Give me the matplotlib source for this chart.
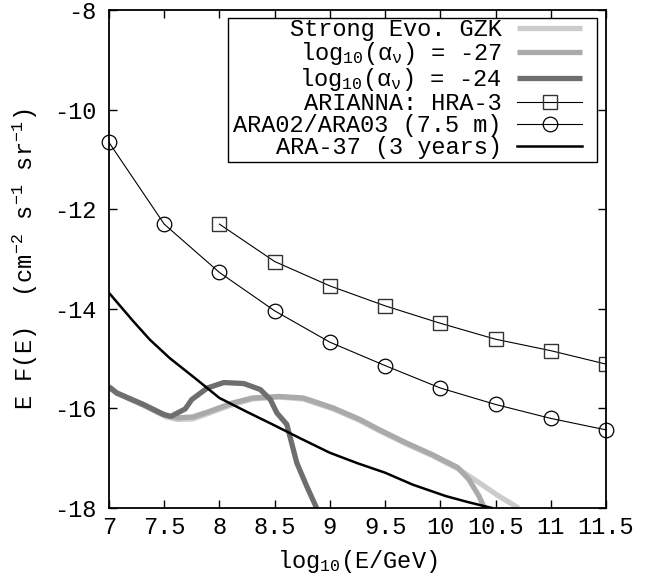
import matplotlib
matplotlib.use("Agg")
import matplotlib.pyplot as plt
from matplotlib.patches import Rectangle

plt.rcParams['font.family'] = ['Liberation Mono', 'DejaVu Sans']
plt.rcParams['font.size'] = 17
plt.rcParams['mathtext.default'] = 'regular'
plt.rcParams['axes.unicode_minus'] = False

# ARA02/ARA03 (7.5 m) sensitivity, circles
ara23_x = [7.0, 7.5, 8.0, 8.5, 9.0, 9.5, 10.0, 10.5, 11.0, 11.5]
ara23_y = [-10.66, -12.30, -13.27, -14.04, -14.67, -15.14, -15.59, -15.92, -16.20, -16.43]

# ARIANNA HRA-3, squares
hra3_x = [8.0, 8.5, 9.0, 9.5, 10.0, 10.5, 11.0, 11.5]
hra3_y = [-12.30, -13.05, -13.54, -13.94, -14.29, -14.61, -14.84, -15.11]

# ARA-37 (3 years)
ara37_x = [7.0, 7.22, 7.37, 7.55, 7.8, 8.0, 8.25, 8.48, 8.75, 9.0, 9.25, 9.5, 9.75, 10.05, 10.25, 10.47]
ara37_y = [-13.68, -14.25, -14.62, -14.99, -15.43, -15.79, -16.07, -16.32, -16.62, -16.89, -17.10, -17.29,
           -17.53, -17.76, -17.88, -18.0]

# Strong evolution GZK flux
gzk_x = [7.0, 7.07, 7.31, 7.52, 7.62, 7.76, 7.91, 8.12, 8.30, 8.54, 8.76, 9.03, 9.27, 9.45, 9.69, 9.93,
         10.16, 10.35, 10.53, 10.71]
gzk_y = [-15.55, -15.69, -15.94, -16.17, -16.22, -16.21, -16.09, -15.92, -15.81, -15.77, -15.81, -16.01,
         -16.24, -16.45, -16.71, -16.95, -17.21, -17.49, -17.76, -18.0]

# log10(alpha_nu) = -27
a27_x = [7.0, 7.07, 7.31, 7.52, 7.62, 7.76, 7.91, 8.12, 8.30, 8.54, 8.76, 9.03, 9.27, 9.45, 9.69, 9.93,
         10.16, 10.26, 10.35, 10.40]
a27_y = [-15.57, -15.69, -15.92, -16.14, -16.19, -16.17, -16.06, -15.89, -15.79, -15.76, -15.79, -15.99,
         -16.22, -16.43, -16.69, -16.93, -17.19, -17.43, -17.76, -18.0]

# log10(alpha_nu) = -24
a24_x = [7.0, 7.07, 7.31, 7.49, 7.56, 7.69, 7.75, 7.89, 8.04, 8.22, 8.37, 8.46, 8.52, 8.61, 8.70, 8.79, 8.88]
a24_y = [-15.57, -15.69, -15.92, -16.12, -16.16, -16.01, -15.82, -15.59, -15.48, -15.50, -15.62, -15.82,
         -16.09, -16.32, -17.09, -17.56, -18.0]

x_ticks = [7, 7.5, 8, 8.5, 9, 9.5, 10, 10.5, 11, 11.5]
x_tick_labels = ["7", "7.5", "8", "8.5", "9", "9.5", "10", "10.5", "11", "11.5"]
y_ticks = [-18, -16, -14, -12, -10, -8]
y_tick_labels = ["-18", "-16", "-14", "-12", "-10", "-8"]

fig = plt.figure(figsize=(6.45, 5.86), dpi=100)
ax = fig.add_axes([0.169, 0.133, 0.7705, 0.850])

ax.plot(gzk_x, gzk_y, color="#cccccc", lw=3.8, solid_capstyle="butt", label="Strong Evo. GZK")
ax.plot(a27_x, a27_y, color="#aaaaaa", lw=3.8, solid_capstyle="butt",
        label="log$_{10}$(α$_ν$) = -27")
ax.plot(a24_x, a24_y, color="#6e6e6e", lw=3.8, solid_capstyle="butt",
        label="log$_{10}$(α$_ν$) = -24")
ax.plot(hra3_x, hra3_y, color="black", lw=0.8, marker="s", ms=10.5, mfc="none", mec="#333333",
        mew=1.0, label="ARIANNA: HRA-3")
ax.plot(ara23_x, ara23_y, color="black", lw=0.8, marker="o", ms=10.5, mfc="none", mec="black",
        mew=0.9, clip_on=False, label="ARA02/ARA03 (7.5 m)")
ax.plot(ara37_x, ara37_y, color="black", lw=1.8, label="ARA-37 (3 years)")

ax.set_xlim(7, 11.5)
ax.set_ylim(-18, -8)
ax.set_xticks(x_ticks)
ax.set_xticklabels(x_tick_labels)
ax.set_yticks(y_ticks)
ax.set_yticklabels(y_tick_labels)
ax.tick_params(direction="in", length=6, width=1.0, top=True, right=True)
ax.tick_params(axis="x", pad=6)
ax.tick_params(axis="y", pad=9)
for sp in ax.spines.values():
    sp.set_linewidth(1.3)

ax.set_xlabel("log$_{10}$(E/GeV)", labelpad=6)
ax.set_ylabel("E F(E)  (cm$^{-2}$ s$^{-1}$ sr$^{-1}$)", labelpad=10)

# key box (gnuplot style: tight top/bottom, wider sides)
ax.add_patch(Rectangle((0.2394, 0.6948), 0.7425, 0.2892, transform=ax.transAxes,
                       facecolor="white", edgecolor="black", lw=1.0, zorder=4))
leg = ax.legend(loc="upper right", bbox_to_anchor=(0.9517, 0.983), markerfirst=False,
                frameon=False, handlelength=2.75, handletextpad=0.65,
                labelspacing=-0.045, borderpad=0.0, borderaxespad=0.0, fontsize=17)
leg.set_zorder(5)

fig.savefig("out.png", dpi=100, facecolor="white")
